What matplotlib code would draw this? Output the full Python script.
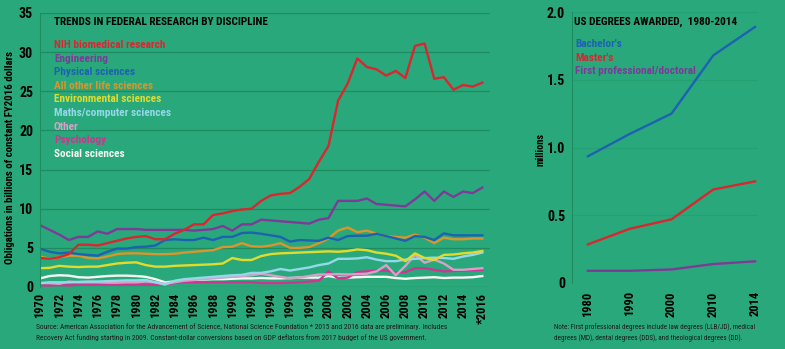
import matplotlib
matplotlib.use("Agg")
import matplotlib.pyplot as plt
import logging

logging.getLogger('matplotlib.font_manager').setLevel(logging.ERROR)
plt.rcParams['font.family'] = ['Roboto Condensed', 'Liberation Sans Narrow',
                               'Liberation Sans', 'DejaVu Sans']

BG = '#29a97b'
GRID = '#1f8c60'

years = list(range(1970, 2017))

nih = [3.7, 3.6, 3.8, 4.2, 5.4, 5.4, 5.3, 5.6, 5.9, 6.2, 6.4, 6.5, 6.1, 6.1, 6.8, 7.3,
       8.0, 8.0, 9.2, 9.4, 9.7, 9.9, 10.0, 11.0, 11.7, 11.9, 12.0, 12.8, 13.8, 16.0, 18.0,
       23.8, 26.0, 29.2, 28.1, 27.8, 27.0, 27.6, 26.7, 30.8, 31.1, 26.6, 26.8, 25.2, 25.8,
       25.6, 26.1]
engineering = [7.9, 7.3, 6.7, 6.0, 6.4, 6.4, 7.1, 6.8, 7.4, 7.4, 7.4, 7.3, 7.3, 7.3, 7.3,
               7.3, 7.2, 7.3, 7.4, 7.8, 7.2, 8.0, 8.0, 8.6, 8.5, 8.4, 8.3, 8.2, 8.1, 8.6,
               8.8, 11.0, 11.0, 11.0, 11.3, 10.6, 10.5, 10.4, 10.3, 11.2, 12.2, 11.0, 12.2,
               11.5, 12.2, 12.0, 12.7]
physical = [4.9, 4.5, 4.3, 4.4, 4.2, 4.1, 4.0, 4.5, 4.9, 4.9, 5.1, 5.15, 5.3, 6.0, 6.1,
            6.0, 6.0, 6.3, 6.0, 6.4, 6.4, 6.9, 6.95, 6.8, 6.6, 6.4, 5.8, 6.0, 5.95, 5.9,
            6.3, 6.0, 6.5, 6.55, 6.55, 6.8, 6.5, 6.2, 5.9, 6.5, 6.4, 6.0, 6.85, 6.6, 6.6,
            6.6, 6.6]
life_other = [3.9, 3.6, 3.8, 4.0, 4.0, 3.7, 3.65, 3.9, 4.2, 4.3, 4.3, 4.25, 4.2, 4.2, 4.25,
              4.4, 4.5, 4.6, 4.7, 5.1, 5.15, 5.6, 5.2, 5.15, 5.3, 5.6, 5.0, 5.0, 5.1, 5.6,
              6.2, 7.2, 7.6, 7.0, 7.2, 6.8, 6.5, 6.4, 6.3, 6.7, 6.3, 5.6, 6.3, 6.1, 6.1,
              6.2, 6.2]
environmental = [2.4, 2.45, 2.7, 2.6, 2.55, 2.6, 2.6, 2.8, 3.0, 3.1, 3.15, 2.8, 2.6, 2.6,
                 2.7, 2.75, 2.8, 2.85, 2.9, 3.0, 3.7, 3.45, 3.45, 3.95, 4.2, 4.3, 4.35, 4.4,
                 4.45, 4.5, 4.55, 4.5, 4.6, 4.8, 4.7, 4.4, 4.25, 4.0, 3.3, 4.3, 3.7, 3.45,
                 4.1, 4.15, 4.3, 4.4, 4.6]
maths_cs = [0.5, 0.6, 0.6, 0.6, 0.65, 0.7, 0.7, 0.75, 0.8, 0.85, 0.85, 0.9, 0.6, 0.3, 0.8,
            1.0, 1.1, 1.2, 1.3, 1.4, 1.5, 1.55, 1.8, 1.8, 2.0, 2.3, 2.1, 2.3, 2.5, 2.8, 3.0,
            3.6, 3.6, 3.65, 3.8, 3.5, 3.3, 3.3, 3.5, 3.6, 3.7, 3.75, 3.7, 3.6, 3.9, 4.1, 4.4]
other = [0.5, 0.5, 0.4, 0.7, 0.6, 0.6, 0.6, 0.55, 0.55, 0.6, 0.6, 0.7, 0.6, 0.4, 0.6, 0.8,
         0.9, 1.0, 1.1, 1.2, 1.3, 1.4, 1.5, 1.7, 1.5, 1.3, 1.1, 1.2, 1.4, 1.6, 1.6, 1.65,
         1.6, 1.65, 1.7, 2.0, 2.8, 1.5, 2.7, 4.1, 3.1, 3.5, 3.0, 2.2, 2.2, 2.3, 2.4]
psychology = [0.2, 0.2, 0.25, 0.2, 0.3, 0.3, 0.3, 0.3, 0.3, 0.3, 0.3, 0.3, 0.3, 0.3, 0.5,
              0.6, 0.6, 0.6, 0.6, 0.6, 0.6, 0.6, 0.6, 0.5, 0.5, 0.5, 0.55, 0.6, 0.7, 0.8,
              2.0, 1.1, 1.2, 1.9, 2.0, 2.1, 2.1, 1.85, 1.9, 2.4, 2.4, 2.2, 2.0, 2.05, 2.1,
              2.15, 2.2]
social = [1.1, 1.4, 1.5, 1.45, 1.25, 1.2, 1.3, 1.4, 1.45, 1.45, 1.4, 1.3, 1.0, 0.6, 0.7,
          0.8, 0.9, 0.95, 1.0, 1.0, 1.05, 1.1, 1.1, 1.15, 1.1, 1.1, 1.15, 1.2, 1.2, 1.2,
          1.4, 1.2, 1.2, 1.25, 1.3, 1.3, 1.3, 1.15, 1.05, 1.15, 1.2, 1.25, 1.15, 1.2, 1.2,
          1.25, 1.4]

series_names = ["NIH biomedical research", "Engineering", "Physical sciences",
                "All other life sciences", "Environmental sciences",
                "Maths/computer sciences", "Other", "Psychology", "Social sciences"]
series_vals = [nih, engineering, physical, life_other, environmental, maths_cs,
               other, psychology, social]
series_cols = ['#d9262f', '#7d3a98', '#1d62b2', '#d8962c', '#e2db2c', '#94d8ea',
               '#d7a0c8', '#cc3590', '#f7f7f2']

deg_years = ["1980", "1990", "2000", "2010", "2014"]
bachelors = [0.935, 1.10, 1.25, 1.68, 1.89]
masters = [0.285, 0.40, 0.47, 0.69, 0.75]
prof_doc = [0.09, 0.09, 0.10, 0.14, 0.16]
deg_names = ["Bachelor's", "Master's", "First professional/doctoral"]
deg_cols = ['#1d62b2', '#d9262f', '#7d3a98']

W, H = 785, 349
fig = plt.figure(figsize=(W / 100, H / 100), dpi=100, facecolor=BG)


def box(x0, y0, x1, y1):
    # pixel box (top-left origin) -> figure fraction rect
    return [x0 / W, 1 - y1 / H, (x1 - x0) / W, (y1 - y0) / H]


def style(ax):
    ax.set_facecolor(BG)
    for s in ['top', 'right', 'bottom']:
        ax.spines[s].set_visible(False)
    ax.spines['left'].set_color(GRID)
    ax.spines['left'].set_linewidth(0.8)
    ax.tick_params(length=0, colors='black')
    ax.grid(axis='y', color=GRID, lw=1.0)
    ax.set_axisbelow(True)


TXT = 8.1     # legend / title size

# ---- left chart
ax = fig.add_axes(box(40, 13, 490, 287))
style(ax)
for vals, col in zip(series_vals[::-1], series_cols[::-1]):
    ax.plot(years, vals, color=col, lw=1.7)
ax.set_xlim(1970, 2016.8)
ax.set_ylim(0, 35)
ax.set_yticks(range(0, 36, 5))
ax.set_yticklabels([str(v) for v in range(0, 36, 5)], fontsize=10, fontweight='bold')
xt = list(range(1970, 2017, 2))
ax.set_xticks(xt)
ax.set_xticklabels([str(y) if y < 2016 else '*2016' for y in xt], rotation=90,
                   fontsize=9, fontweight='bold')
ax.tick_params(axis='y', pad=5)
ax.tick_params(axis='x', pad=4)
fig.text(10 / W, 1 - 158 / H, "Obligations in billions of constant FY2016 dollars",
         fontsize=7.8, fontweight='bold', rotation=90, va='center', ha='center')

fig.text(54 / W, 1 - 22 / H, "TRENDS IN FEDERAL RESEARCH BY DISCIPLINE", fontsize=TXT,
         fontweight='bold', va='center', ha='left')
for i, (name, col) in enumerate(zip(series_names, series_cols)):
    fig.text(54 / W, 1 - (45 + i * 13.6) / H, name, color=col, fontsize=TXT,
             fontweight='bold', va='center', ha='left')

fig.text(36 / W, 1 - 327 / H,
         "Source: American Association for the Advancement of Science, National Science "
         "Foundation * 2015 and 2016 data are preliminary. Includes",
         fontsize=5.45, va='center', ha='left', color='#1a1a1a')
fig.text(36 / W, 1 - 338 / H,
         "Recovery Act funding starting in 2009. Constant-dollar conversions based on GDP "
         "deflators from 2017 budget of the US government.",
         fontsize=5.45, va='center', ha='left', color='#1a1a1a')

# ---- right chart
ax2 = fig.add_axes(box(572, 12, 758, 283))
style(ax2)
ax2.grid(axis='y', color='#24a071', lw=0.8)
xpos = range(len(deg_years))
for vals, col in zip([bachelors, masters, prof_doc], deg_cols):
    ax2.plot(xpos, vals, color=col, lw=1.7)
ax2.set_xlim(-0.38, 4.07)
ax2.set_ylim(0, 2.0)
ax2.set_yticks([0, 0.5, 1.0, 1.5, 2.0])
ax2.set_yticklabels(["0", "0.5", "1.0", "1.5", "2.0"], fontsize=10, fontweight='bold')
ax2.set_xticks(list(xpos))
ax2.set_xticklabels(deg_years, rotation=90, fontsize=9, fontweight='bold')
ax2.tick_params(axis='y', pad=5)
ax2.tick_params(axis='x', pad=6)
fig.text(541 / W, 1 - 150 / H, "millions", fontsize=7.5, fontweight='bold',
         rotation=90, va='center', ha='center')

fig.text(574 / W, 1 - 22 / H, "US DEGREES AWARDED,  1980-2014", fontsize=TXT,
         fontweight='bold', va='center', ha='left')
for i, (name, col) in enumerate(zip(deg_names, deg_cols)):
    fig.text(575 / W, 1 - (44 + i * 13.7) / H, name, color=col, fontsize=TXT,
             fontweight='bold', va='center', ha='left')

fig.text(554 / W, 1 - 327 / H,
         "Note: First professional degrees include law degrees (LLB/JD), medical",
         fontsize=5.15, va='center', ha='left', color='#1a1a1a')
fig.text(554 / W, 1 - 338 / H,
         "degrees (MD), dental degrees (DDS), and theological degrees (DD).",
         fontsize=5.15, va='center', ha='left', color='#1a1a1a')

fig.savefig("out.png", dpi=100, facecolor=BG)
